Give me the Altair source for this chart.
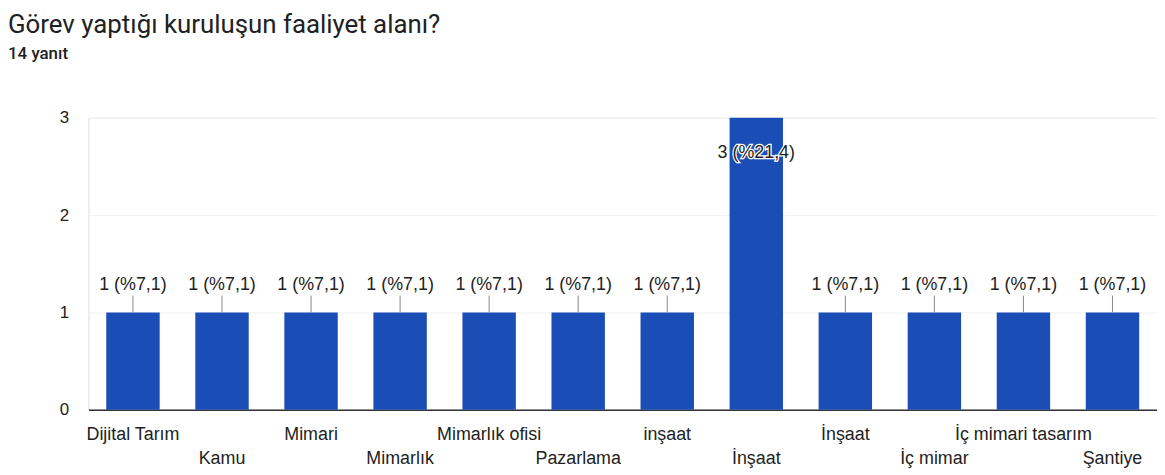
import altair as alt
import pandas as pd

categories = ["Dijital Tarım", "Kamu", "Mimari", "Mimarlık", "Mimarlık ofisi",
              "Pazarlama", "inşaat", "İnşaat", "İnşaat", "İç mimar",
              "İç mimari tasarım", "Şantiye"]
counts = [1, 1, 1, 1, 1, 1, 1, 3, 1, 1, 1, 1]
percent_labels = ["%7,1", "%7,1", "%7,1", "%7,1", "%7,1", "%7,1", "%7,1",
                  "%21,4", "%7,1", "%7,1", "%7,1", "%7,1"]
y_ticks = [0, 1, 2, 3]

df = pd.DataFrame({
    "key": [f"{i}|{c}" for i, c in enumerate(categories)],
    "v": counts,
    "lab": [f"{c} ({p})" for c, p in zip(counts, percent_labels)],
})

FONT = "Liberation Sans"
BLUE = "#1a4db6"

label_expr = ("parseInt(split(datum.label,'|')[0]) % 2 == 0 ? "
              "split(datum.label,'|')[1] : ['', split(datum.label,'|')[1]]")

x = alt.X("key:N", sort=None, title=None,
          scale=alt.Scale(paddingInner=0.4, paddingOuter=0.2),
          axis=alt.Axis(labelExpr=label_expr, labelAngle=0, labelOverlap=False,
                        labelFont=FONT, labelFontSize=18, labelColor="#222222",
                        labelLineHeight=24, labelPadding=16, ticks=False,
                        domain=True, domainColor="#333333", domainWidth=1.5,
                        labelBaseline="top", labelLimit=300))
y = alt.Y("v:Q", title=None,
          scale=alt.Scale(domain=[0, 3]),
          axis=alt.Axis(values=y_ticks, format="d", labelFont=FONT, labelFontSize=17,
                        labelColor="#222222", labelPadding=20, ticks=False,
                        domain=False, gridColor="#f0f0f0", gridWidth=1))

base = alt.Chart(df)

bars = base.mark_bar(color=BLUE).encode(x=x, y=y)

outside = base.transform_filter("datum.v < 3")
ticks = outside.mark_rule(color="#888888", strokeWidth=1, y2Offset=-17).encode(
    x=x, y=y, y2="v:Q")
out_text = outside.mark_text(font=FONT, fontSize=18, color="#222222",
                             baseline="middle", dy=-28).encode(
    x=x, y=y, text="lab:N")

inside = base.transform_filter("datum.v >= 3")
in_halo = inside.mark_text(font=FONT, fontSize=18, color="white", stroke="white",
                           strokeWidth=2.5, baseline="middle", dy=35).encode(
    x=x, y=y, text="lab:N")
in_text = inside.mark_text(font=FONT, fontSize=18, color="#222222",
                           baseline="middle", dy=35).encode(
    x=x, y=y, text="lab:N")

chart = alt.layer(bars, ticks, out_text, in_halo, in_text).properties(
    width=1076, height=294,
    autosize=alt.AutoSizeParams(type="none"),
    padding={"left": 81, "top": 109, "right": 0, "bottom": 60},
    title=alt.Title("Görev yaptığı kuruluşun faaliyet alanı?",
                    subtitle="14 yanıt", anchor="start", frame="group",
                    dx=-81, offset=47, font="Roboto", fontSize=26,
                    fontWeight="normal", color="#202124",
                    subtitleFont="Roboto", subtitleFontSize=17,
                    subtitleFontWeight=500, subtitleColor="#202124",
                    subtitlePadding=8),
).configure_view(stroke=None).configure(background="white")

chart.save("out.html", embed_options={"renderer": "svg", "actions": False})
